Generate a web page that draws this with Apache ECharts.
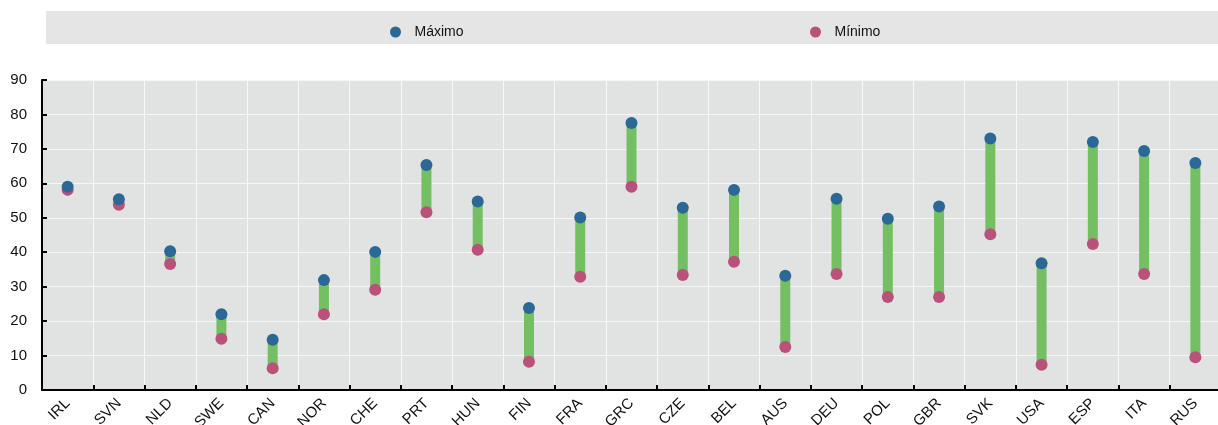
<!DOCTYPE html>
<html><head><meta charset="utf-8">
<script src="https://cdn.jsdelivr.net/npm/echarts@6/dist/echarts.min.js"></script>
<style>html,body{margin:0;padding:0;background:#fff}#c{width:1218px;height:425px}</style>
</head><body><div id="c"></div>
<script>
const categories = ['IRL','SVN','NLD','SWE','CAN','NOR','CHE','PRT','HUN','FIN','FRA','GRC','CZE','BEL','AUS','DEU','POL','GBR','SVK','USA','ESP','ITA','RUS'];
const maxValues = [59.0,55.4,40.3,22.0,14.6,31.9,40.1,65.3,54.7,23.8,50.1,77.5,52.9,58.1,33.2,55.5,49.7,53.3,73.0,36.8,72.0,69.4,65.9];
const minValues = [58.1,53.8,36.6,14.9,6.3,22.0,29.1,51.6,40.7,8.2,32.9,59.0,33.4,37.2,12.5,33.7,27.0,27.0,45.2,7.3,42.4,33.7,9.5];
const yTicks = [0,10,20,30,40,50,60,70,80,90];

const FONT = '"Liberation Sans Narrow","Arial Narrow","Liberation Sans",Arial,sans-serif';
const chart = echarts.init(document.getElementById('c'));
chart.setOption({
  animation: false,
  textStyle: {fontFamily: FONT},
  graphic: [{type:'rect', z:-1, shape:{x:46,y:11,width:1172,height:33}, style:{fill:'#e4e5e4'}}],
  legend: [
    {data:['Máximo'], left:385, top:20, icon:'circle', itemWidth:28, itemHeight:11, itemGap:8,
     textStyle:{fontFamily:FONT, fontSize:14, color:'#111'}},
    {data:['Mínimo'], left:805, top:20, icon:'circle', itemWidth:28, itemHeight:11, itemGap:8,
     textStyle:{fontFamily:FONT, fontSize:14, color:'#111'}}
  ],
  grid: {left:42, right:-3, top:80, bottom:35, show:true, backgroundColor:'#e1e3e2', borderWidth:0,
         containLabel:false, outerBoundsMode:'none'},
  xAxis: {
    type:'category', data:categories, boundaryGap:true,
    axisLine:{lineStyle:{color:'#000', width:2}},
    axisTick:{show:true, inside:true, length:5, interval:0, lineStyle:{color:'#000', width:2}},
    splitLine:{show:true, interval:0, lineStyle:{color:'#f7f7f7', width:1}},
    axisLabel:{rotate:45, interval:0, fontSize:15, color:'#111', margin:11, fontFamily:FONT}
  },
  yAxis: {
    type:'value', min:yTicks[0], max:yTicks[yTicks.length-1], interval:10,
    axisLine:{show:true, lineStyle:{color:'#000', width:2}},
    axisTick:{show:true, inside:true, length:5, lineStyle:{color:'#000', width:2}},
    splitLine:{show:true, lineStyle:{color:'#f7f7f7', width:1}},
    axisLabel:{fontSize:15, color:'#111', margin:15, fontFamily:FONT}
  },
  series: [
    {
      type:'custom', name:'range', silent:true, z:2,
      data: categories.map((c,i)=>[i, minValues[i], maxValues[i]]),
      renderItem: function(params, api){
        const lo = api.coord([api.value(0), api.value(1)]);
        const hi = api.coord([api.value(0), api.value(2)]);
        const w = 10;
        return {type:'rect', shape:{x:lo[0]-w/2, y:hi[1], width:w, height:lo[1]-hi[1]}, style:{fill:'#73bf62'}};
      },
      encode:{x:0, y:[1,2]}
    },
    {type:'scatter', name:'Máximo', data:maxValues, symbolSize:12, z:4,
     itemStyle:{color:'#2c6895', opacity:1}},
    {type:'scatter', name:'Mínimo', data:minValues, symbolSize:12, z:3,
     itemStyle:{color:'#b9517b', opacity:1}}
  ]
});
</script></body></html>
